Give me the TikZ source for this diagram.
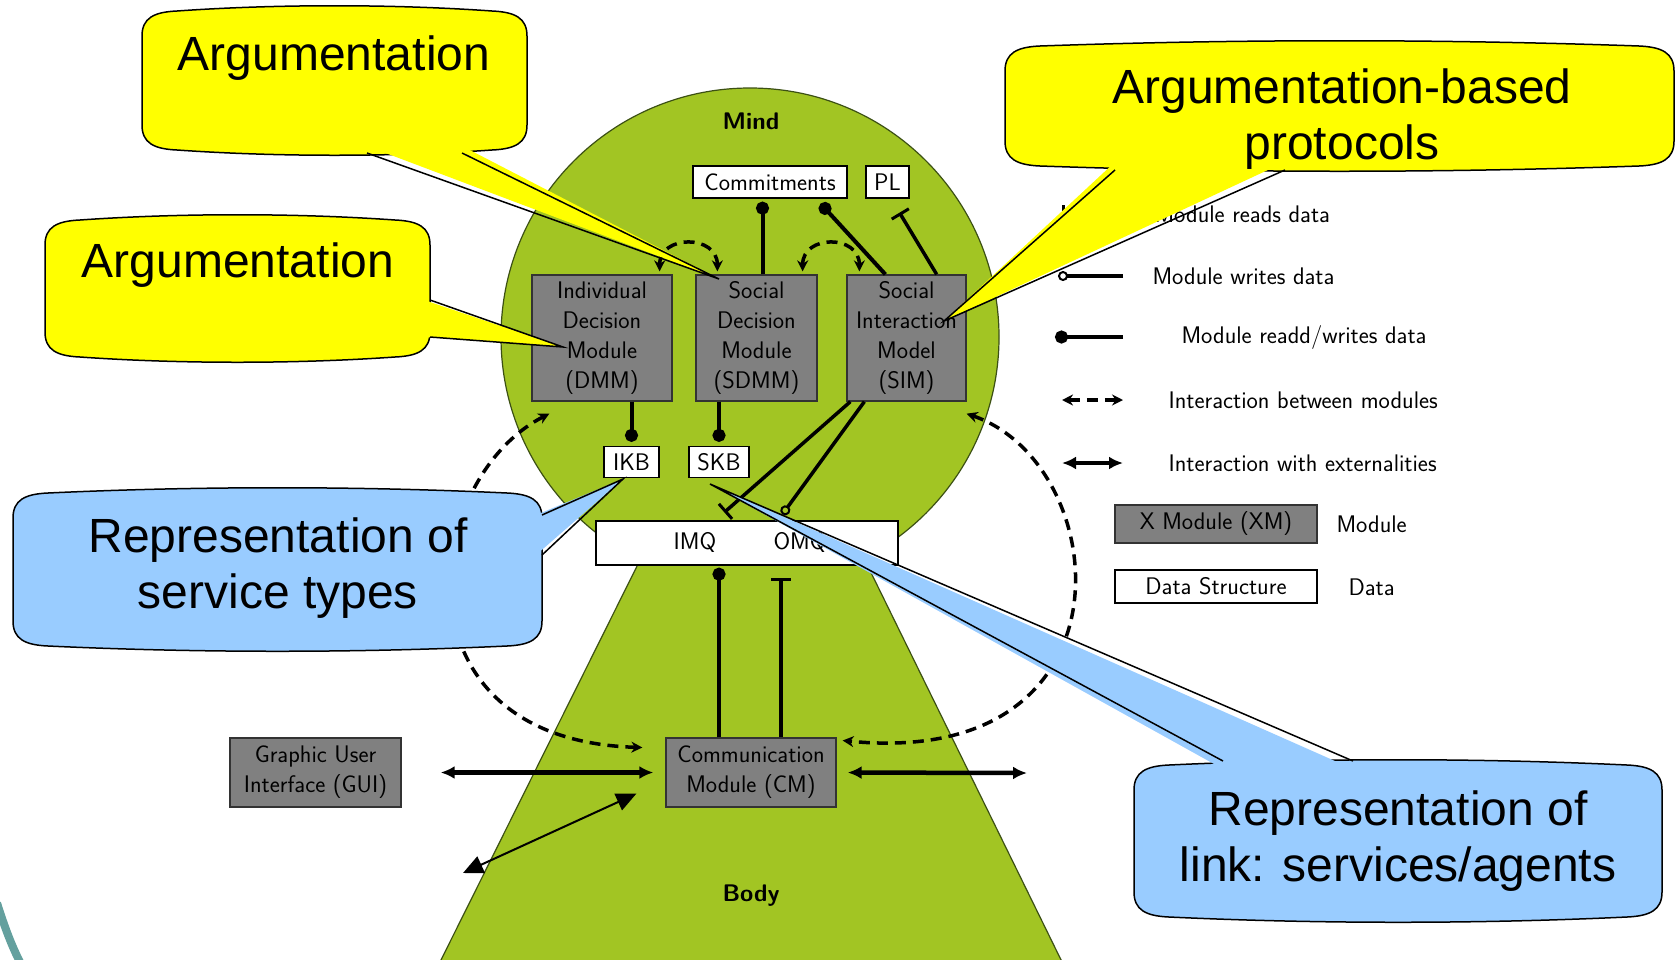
\documentclass[tikz,border=0pt]{standalone}
\usepackage{fontspec}
\newfontfamily\callfont{Liberation Sans}
\usetikzlibrary{arrows.meta,calc}
\definecolor{mindgreen}{RGB}{162,197,35}
\definecolor{edgegreen}{RGB}{60,80,20}
\definecolor{modgray}{RGB}{128,128,128}
\definecolor{callyellow}{RGB}{255,255,0}
\definecolor{callblue}{RGB}{153,204,255}
\definecolor{tealarc}{RGB}{100,160,158}
% bubble: fill colour, x1, y1, x2, y2
\newcommand{\bubblebox}[5]{%
  \draw[callbox, fill=#1] (#2,#3+28) .. controls (#2,#3+10) and (#2+12,#3+4) .. (#2+35,#3+3)
    .. controls (#2+0.35*#4-0.35*#2,#3-4) and (#4-0.35*#4+0.35*#2,#3-4) .. (#4-35,#3+3)
    .. controls (#4-12,#3+4) and (#4,#3+10) .. (#4,#3+28)
    -- (#4,#5-28)
    .. controls (#4,#5-10) and (#4-12,#5-4) .. (#4-35,#5-3)
    .. controls (#4-0.35*#4+0.35*#2,#5+4) and (#2+0.35*#4-0.35*#2,#5+4) .. (#2+35,#5-3)
    .. controls (#2+12,#5-4) and (#2,#5-10) .. (#2,#5-28) -- cycle;}
\begin{document}
\begin{tikzpicture}[x=1pt,y=-1pt,
  txt/.style={font=\sffamily\fontsize{24}{30}\selectfont},
  module/.style={txt, draw=black!80, line width=1.3pt, fill=modgray, align=center, inner sep=0pt},
  datab/.style={txt, draw=black, line width=1.3pt, fill=white, align=center, inner sep=0pt},
  conn/.style={line width=4pt},
  rw/.style={conn, -{Circle[length=13pt]}},
  rd/.style={line width=3.5pt, -{Bar[width=20pt,line width=3pt]}},
  wr/.style={line width=3.5pt, -{Circle[open,length=10pt,line width=2pt]}},
  inter/.style={dash pattern=on 11pt off 7pt, line width=3.5pt, {Stealth[length=11pt,width=11pt]}-{Stealth[length=11pt,width=11pt]}},
  ext/.style={line width=4.5pt, {Latex[length=14pt,width=13pt]}-{Latex[length=14pt,width=13pt]}},
  thinarr/.style={line width=2pt, {Triangle[length=20pt,width=18pt]}-{Triangle[length=20pt,width=18pt]}},
  callbox/.style={draw=black, line width=1.5pt},
  callside/.style={draw=black, line width=1.5pt, line join=miter},
  calltext/.style={font=\callfont\fontsize{48}{56}\selectfont, align=center}
]
\useasboundingbox (0,0) rectangle (1677,959);
\fill[white] (0,0) rectangle (1677,959);
\begin{scope}
\clip (0,0) rectangle (1677,959);

% decorative arc
\draw[tealarc, line width=8pt] (-3,903) .. controls (4,925) and (11,945) .. (22,966);

% mind and body
\draw[fill=mindgreen, draw=edgegreen, line width=1.2pt] (750,337) circle[radius=249];
\draw[fill=mindgreen, draw=edgegreen, line width=1.2pt] (437,968) -- (650,540) -- (855,540) -- (1065,968) -- cycle;

\node[txt, font=\sffamily\bfseries\fontsize{24}{30}\selectfont] (mind) at (751,121) {Mind};
\node[txt, font=\sffamily\bfseries\fontsize{24}{30}\selectfont] (body) at (751,896) {Body};

% data structures
\node[datab, minimum width=154pt, minimum height=32pt] (commit) at (770,182) {Commitments};
\node[datab, minimum width=43pt, minimum height=32pt] (pl) at (887.5,182) {PL};
\node[datab, minimum width=55pt, minimum height=31pt] (ikb) at (631.5,462) {IKB};
\node[datab, minimum width=60pt, minimum height=31pt] (skb) at (719,462) {SKB};
\node[datab, minimum width=302pt, minimum height=44pt] (queue) at (747,543) {};
\node[txt] (imq) at (695,542) {IMQ};
\node[txt] (omq) at (800,542) {OMQ};

% modules
\node[module, minimum width=140pt, minimum height=126pt] (dmm) at (602,338) {Individual\\Decision\\Module\\(DMM)};
\node[module, minimum width=121pt, minimum height=126pt] (sdmm) at (756.5,338) {Social\\Decision\\Module\\(SDMM)};
\node[module, minimum width=119pt, minimum height=126pt] (sim) at (906.5,338) {Social\\Interaction\\Model\\(SIM)};
\node[module, minimum width=170pt, minimum height=69pt] (cm) at (751,772.5) {Communication\\Module (CM)};
\node[module, minimum width=171pt, minimum height=69pt] (gui) at (315.5,772.5) {Graphic User\\Interface (GUI)};

% connectors inside mind
\draw[rw, shorten >=3pt] ([xshift=6pt]sdmm.north) -- ([xshift=6pt]sdmm.north |- commit.south);
\draw[rw] ($(sim.north west)+(39,0)$) -- ($(commit.south east)+(-27,5)$);
\draw[rd] ($(sim.north east)+(-30,0)$) -- ($(pl.south)+(12,14)$);
\draw[inter] ($(dmm.north east)+(-13,-3)$) .. controls ($(dmm.north east)+(-13,-40)$) and ($(sdmm.north west)+(22,-40)$) .. ($(sdmm.north west)+(22,-3)$);
\draw[inter] ($(sdmm.north east)+(-15,-3)$) .. controls ($(sdmm.north east)+(-15,-40)$) and ($(sim.north west)+(13,-40)$) .. ($(sim.north west)+(13,-3)$);
\draw[rw, shorten >=4pt] (ikb.north |- dmm.south) -- (ikb.north);
\draw[rw, shorten >=4pt] (skb.north |- sdmm.south) -- (skb.north);
\draw[rd] ($(sim.south west)+(4,0)$) -- ($(queue.north west)+(129,-8)$);
\draw[wr] ($(sim.south west)+(18,0)$) -- ($(queue.north west)+(187,-6)$);

% connectors to communication module
\draw[rw, shorten >=2pt] ([xshift=-32pt]cm.north) -- ([xshift=-32pt]cm.north |- queue.south);
\draw[rd, shorten >=12pt] ([xshift=30pt]cm.north) -- ([xshift=30pt]cm.north |- queue.south);
\draw[inter] ($(dmm.south west)+(18,12)$) .. controls (420,480) and (390,740) .. ($(cm.west)+(-23,-25)$);
\draw[inter] ($(sim.south east)+(0,12)$) .. controls (1115,465) and (1140,770) .. ($(cm.east)+(6,-32)$);
\draw[ext, shorten <=39pt, shorten >=12pt] (gui.east) -- (cm.west);
\coordinate (extR) at (1027,773);
\draw[ext, shorten <=11pt] (cm.east) -- (extR);
\coordinate (extBL) at (463,873);
\draw[thinarr] (extBL) -- ($(cm.south west)+(-29,-14)$);

% legend
\coordinate (l1a) at (1062,215); \coordinate (l1b) at (1123,215);
\draw[rd] (l1b) -- (l1a);
\coordinate (l2a) at (1058,276); \coordinate (l2b) at (1123,276);
\draw[wr] (l2b) -- (l2a);
\coordinate (l3a) at (1055,337); \coordinate (l3b) at (1123,337);
\draw[rw] (l3b) -- (l3a);
\coordinate (l4a) at (1062,400); \coordinate (l4b) at (1123,400);
\draw[inter] (l4a) -- (l4b);
\coordinate (l5a) at (1062,463); \coordinate (l5b) at (1123,463);
\draw[ext] (l5a) -- (l5b);
\node[txt, anchor=west] (t1) at (1151,214) {Module reads data};
\node[txt, anchor=west] (t2) at (1149,276) {Module writes data};
\node[txt, anchor=west] (t3) at (1178,337) {Module readd/writes data};
\node[txt, anchor=west] (t4) at (1165,400) {Interaction between modules};
\node[txt, anchor=west] (t5) at (1165,463) {Interaction with externalities};
\node[module, minimum width=202pt, minimum height=38pt] (xm) at (1216,524) {X Module (XM)};
\node[txt, anchor=west] (t6) at (1333,524) {Module};
\node[datab, minimum width=202pt, minimum height=33pt] (ds) at (1216,586.5) {Data Structure};
\node[txt, anchor=west] (t7) at (1345,587) {Data};

% callouts
% C1
\bubblebox{callyellow}{142}{8}{527}{153}
\fill[callyellow] (367,146) -- (719,279) -- (462,146) -- cycle;
\draw[callside] (367,153) -- (719,279) -- (462,153);
\node[calltext] (c1) at (334,58) {Argumentation};
% C2
\bubblebox{callyellow}{45}{217}{430}{360}
\fill[callyellow] (424,300) -- (563,347) -- (424,337) -- cycle;
\draw[callside] (430,300) -- (563,347) -- (430,337);
\node[calltext] (c2) at (238,265) {Argumentation};
% C3
\bubblebox{callyellow}{1005}{43}{1674}{169}
\fill[callyellow] (1115,162) -- (944,321) -- (1285,162) -- cycle;
\draw[callside] (1115,170) -- (944,321) -- (1285,170);
\node[calltext] (c3) at (1342,119) {Argumentation-based\\protocols};
% C4
\bubblebox{callblue}{13}{490}{542}{649}
\fill[callblue] (536,515) -- (623,479) -- (536,555) -- cycle;
\draw[callside] (542,515) -- (623,479) -- (542,555);
\node[calltext] (c4) at (278,568) {Representation of\\service types};
% C5
\bubblebox{callblue}{1134}{762}{1662}{920}
\fill[callblue] (1223,769) -- (710,484) -- (1353,769) -- cycle;
\draw[callside] (1223,761) -- (710,484) -- (1353,761);
\node[calltext] (c5) at (1398,841) {Representation of\\link: services/agents};
\end{scope}
\end{tikzpicture}
\end{document}
